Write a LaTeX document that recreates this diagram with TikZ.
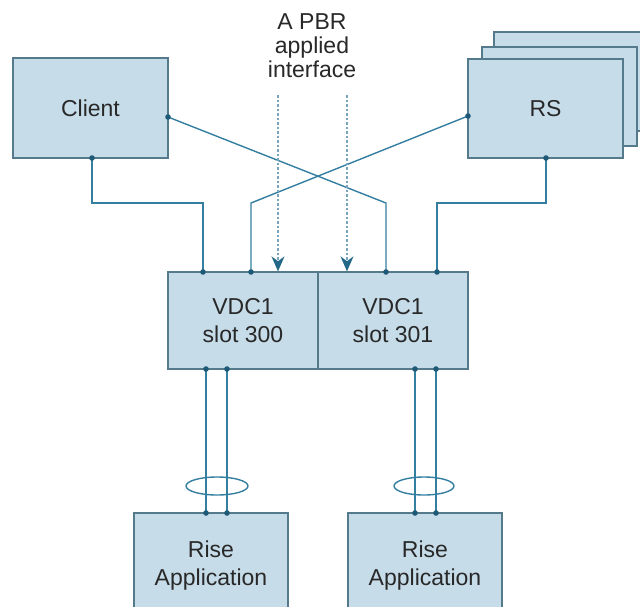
\documentclass[tikz,border=0pt]{standalone}
\usepackage{fontspec}
\setmainfont{Liberation Sans}
\usetikzlibrary{arrows.meta}
\definecolor{boxfill}{RGB}{198,220,233}
\definecolor{boxline}{RGB}{84,122,140}
\definecolor{wire}{RGB}{52,126,160}
\definecolor{dotc}{RGB}{30,90,120}
\definecolor{dashc}{RGB}{120,165,190}
\definecolor{tipc}{RGB}{35,105,135}
\definecolor{txt}{RGB}{40,40,40}
\tikzset{
  box/.style={draw=boxline, line width=1.3pt, fill=boxfill, inner sep=0pt, text=txt,
    font=\fontsize{23}{28}\selectfont, align=center},
  wireline/.style={draw=wire, line width=1.4pt},
  pdot/.style={fill=dotc, draw=none},
  pbr/.style={draw=dashc, line width=1.5pt, dash pattern=on 2.5pt off 2pt,
    -{Stealth[length=15pt,width=13pt,color=tipc]}},
  ring/.style={draw=wire, line width=1.4pt}
}
\begin{document}
\begin{tikzpicture}[x=1pt,y=-1pt]
\useasboundingbox (0,0) rectangle (640,606);
\clip (0,0) rectangle (640,606);
\fill[white] (0,0) rectangle (640,606);
% RS stack
\node[box, minimum width=155pt, minimum height=99pt] (rs3) at (571.5,81.5) {};
\node[box, minimum width=155pt, minimum height=99pt] (rs2) at (559.5,96.5) {};
\node[box, minimum width=155pt, minimum height=99pt] (rs) at (545.5,108.5) {RS};
% Client
\node[box, minimum width=155pt, minimum height=100pt] (client) at (90.5,108) {Client};
% VDC
\node[box, minimum width=150pt, minimum height=97pt] (vdcA) at (243,320.5) {VDC1\\slot 300};
\node[box, minimum width=150pt, minimum height=97pt] (vdcB) at (393,320.5) {VDC1\\slot 301};
% Rise
\node[box, minimum width=154pt, minimum height=106pt] (riseA) at (211,566) {Rise\\Application};
\node[box, minimum width=154pt, minimum height=106pt] (riseB) at (425,566) {Rise\\Application};
% label
\node[text=txt, font=\fontsize{23}{24}\selectfont, align=center] (lbl) at (312,46) {A PBR\\applied\\interface};
% ports
\coordinate (cB) at (92,158);
\coordinate (cR) at (168,117);
\coordinate (rL) at (468,116);
\coordinate (rB) at (546,158);
\coordinate (v1) at (203,272);
\coordinate (v2) at (251,272);
\coordinate (v3) at (386,272);
\coordinate (v4) at (437,272);
\coordinate (b1) at (206,369);
\coordinate (b2) at (227,369);
\coordinate (b3) at (415,369);
\coordinate (b4) at (436,369);
\coordinate (a1) at (206,513);
\coordinate (a2) at (227,513);
\coordinate (a3) at (415,513);
\coordinate (a4) at (436,513);
\coordinate (p1) at (278,95);
\coordinate (p2) at (347,95);
% wires
\draw[wireline] (cB) |- (203,203) -- (v1);
\draw[wireline] (cR) -- (386,203) -- (v3);
\draw[wireline] (rL) -- (251,203) -- (v2);
\draw[wireline] (rB) |- (437,203) -- (v4);
\draw[wireline] (b1) -- (a1);
\draw[wireline] (b2) -- (a2);
\draw[wireline] (b3) -- (a3);
\draw[wireline] (b4) -- (a4);
% rings
\draw[ring] (217,486) ellipse [x radius=31pt, y radius=9pt];
\draw[ring] (424,486) ellipse [x radius=30pt, y radius=9pt];
% PBR arrows
\draw[pbr] (p1) -- (p1 |- vdcA.north);
\draw[pbr] (p2) -- (p2 |- vdcB.north);
% dots
\foreach \p in {cB,cR,rL,rB,v1,v2,v3,v4,b1,b2,b3,b4,a1,a2,a3,a4}
  \fill[pdot] (\p) circle (2.8pt);
\end{tikzpicture}
\end{document}
